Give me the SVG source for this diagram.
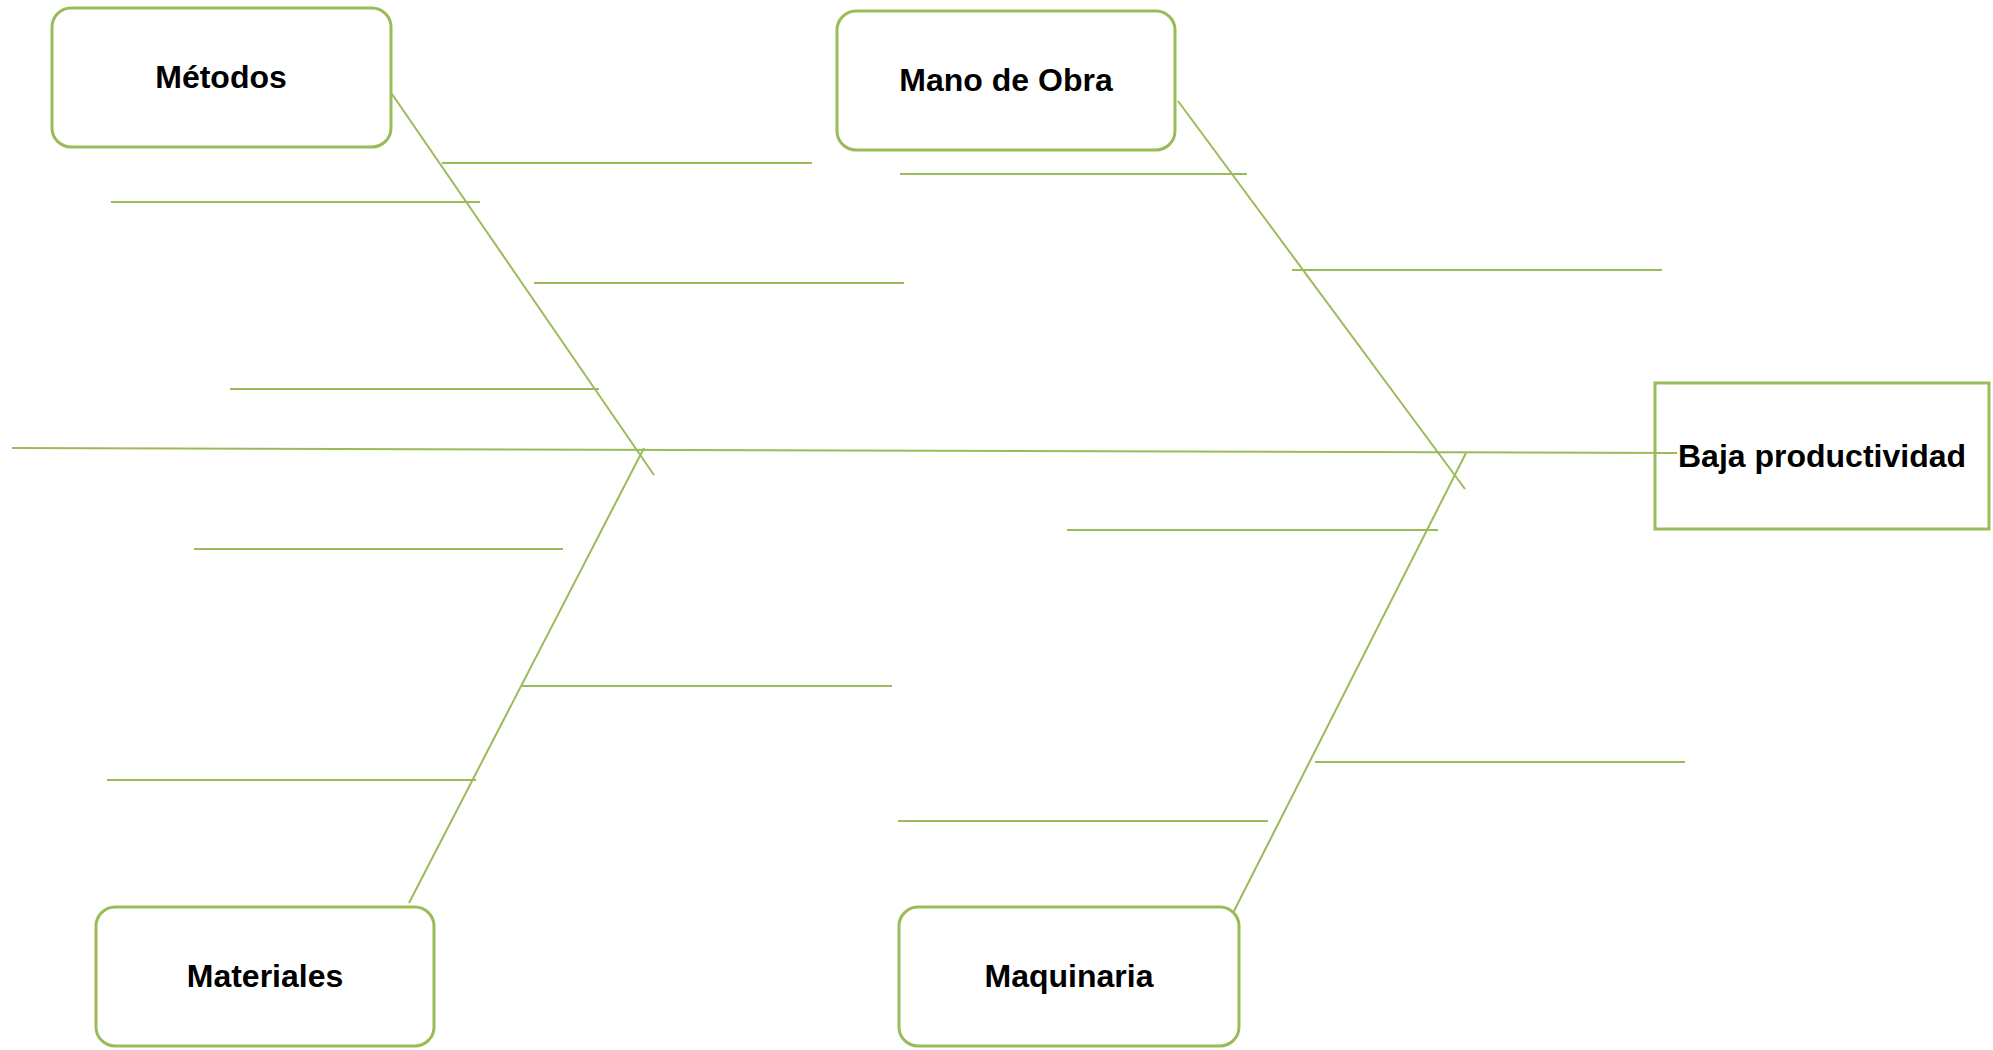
<svg xmlns="http://www.w3.org/2000/svg" width="1993" height="1050" viewBox="0 0 1993 1050">
  <style>
    .box { fill: #ffffff; stroke: #9BBB59; stroke-width: 3; }
    .bone { stroke: #9BBB59; stroke-width: 2; fill: none; }
    .rib { stroke: #9BBB59; stroke-width: 2.2; fill: none; }
    .label { font-family: "Liberation Sans", Arial, sans-serif; font-weight: bold; font-size: 32px; fill: #000000; text-anchor: middle; }
  </style>
  <rect width="1993" height="1050" fill="#ffffff"/>

  <!-- spine, bones and ribs -->
  <g id="connectors">
    <line class="bone" x1="12" y1="448" x2="1677" y2="453"/>
    <line class="bone" x1="392" y1="94" x2="654" y2="475"/>
    <line class="bone" x1="1178" y1="101" x2="1465" y2="489"/>
    <line class="bone" x1="409" y1="903" x2="644" y2="448"/>
    <line class="bone" x1="1233" y1="913" x2="1466" y2="453"/>

    <line class="rib" x1="442" y1="163" x2="812" y2="163"/>
    <line class="rib" x1="111" y1="202" x2="480" y2="202"/>
    <line class="rib" x1="534" y1="283" x2="904" y2="283"/>
    <line class="rib" x1="230" y1="389" x2="599" y2="389"/>

    <line class="rib" x1="900" y1="174" x2="1247" y2="174"/>
    <line class="rib" x1="1292" y1="270" x2="1662" y2="270"/>

    <line class="rib" x1="194" y1="549" x2="563" y2="549"/>
    <line class="rib" x1="522" y1="686" x2="892" y2="686"/>
    <line class="rib" x1="107" y1="780" x2="476" y2="780"/>

    <line class="rib" x1="1067" y1="530" x2="1438" y2="530"/>
    <line class="rib" x1="1315" y1="762" x2="1685" y2="762"/>
    <line class="rib" x1="898" y1="821" x2="1268" y2="821"/>
  </g>

  <g id="metodos">
    <rect class="box" x="52" y="8" width="339" height="139" rx="19" ry="19"/>
    <text class="label" x="221" y="88">Métodos</text>
  </g>

  <g id="mano-de-obra">
    <rect class="box" x="837" y="11" width="338" height="139" rx="19" ry="19"/>
    <text class="label" x="1006" y="91">Mano de Obra</text>
  </g>

  <g id="materiales">
    <rect class="box" x="96" y="907" width="338" height="139" rx="19" ry="19"/>
    <text class="label" x="265" y="987">Materiales</text>
  </g>

  <g id="maquinaria">
    <rect class="box" x="899" y="907" width="340" height="139" rx="19" ry="19"/>
    <text class="label" x="1069" y="987">Maquinaria</text>
  </g>

  <g id="baja-productividad">
    <rect class="box" x="1655" y="383" width="334" height="146"/>
    <line class="bone" x1="1655" y1="453" x2="1677" y2="453"/>
    <text class="label" x="1822" y="467">Baja productividad</text>
  </g>
</svg>
